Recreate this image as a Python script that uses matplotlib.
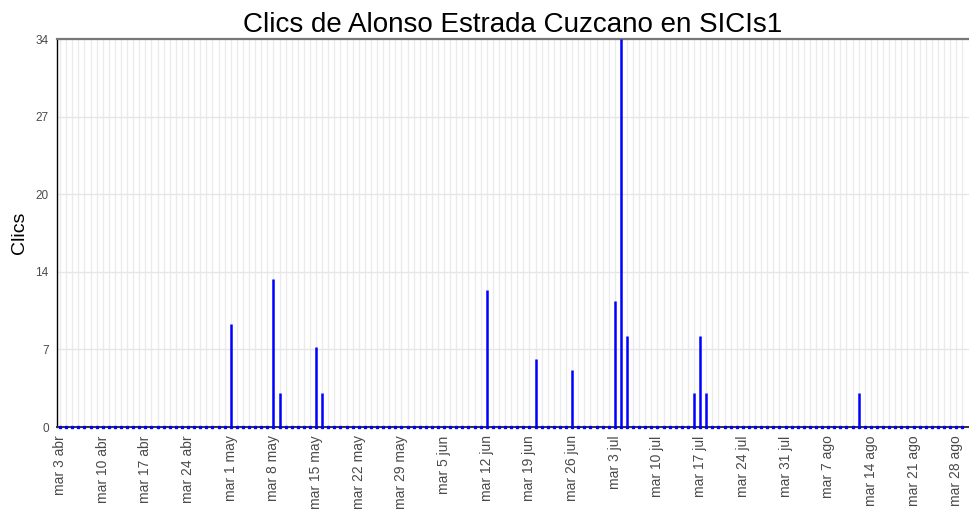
import numpy as np
import matplotlib
matplotlib.use("Agg")
import matplotlib.pyplot as plt

plt.rcParams["font.family"] = ["Liberation Sans", "DejaVu Sans"]

# ---
# Daily clicks, one row per week starting Tuesday 3 April

clicks = [
    0, 0, 0, 0, 0, 0, 0,      # 3 abr
    0, 0, 0, 0, 0, 0, 0,      # 10 abr
    0, 0, 0, 0, 0, 0, 0,      # 17 abr
    0, 0, 0, 0, 0, 0, 0,      # 24 abr
    9, 0, 0, 0, 0, 0, 0,      # 1 may
    13, 3, 0, 0, 0, 0, 0,     # 8 may
    7, 3, 0, 0, 0, 0, 0,      # 15 may
    0, 0, 0, 0, 0, 0, 0,      # 22 may
    0, 0, 0, 0, 0, 0, 0,      # 29 may
    0, 0, 0, 0, 0, 0, 0,      # 5 jun
    12, 0, 0, 0, 0, 0, 0,     # 12 jun
    0, 6, 0, 0, 0, 0, 0,      # 19 jun
    5, 0, 0, 0, 0, 0, 0,      # 26 jun
    11, 34, 8, 0, 0, 0, 0,    # 3 jul
    0, 0, 0, 0, 0, 0, 3,      # 10 jul
    8, 3, 0, 0, 0, 0, 0,      # 17 jul
    0, 0, 0, 0, 0, 0, 0,      # 24 jul
    0, 0, 0, 0, 0, 0, 0,      # 31 jul
    0, 0, 0, 0, 0, 3, 0,      # 7 ago
    0, 0, 0, 0, 0, 0, 0,      # 14 ago
    0, 0, 0, 0, 0, 0, 0,      # 21 ago
    0, 0,                     # 28 ago
]

week_labels = [
    "mar 3 abr", "mar 10 abr", "mar 17 abr", "mar 24 abr",
    "mar 1 may", "mar 8 may", "mar 15 may", "mar 22 may", "mar 29 may",
    "mar 5 jun", "mar 12 jun", "mar 19 jun", "mar 26 jun",
    "mar 3 jul", "mar 10 jul", "mar 17 jul", "mar 24 jul", "mar 31 jul",
    "mar 7 ago", "mar 14 ago", "mar 21 ago", "mar 28 ago",
]

y_max = 34
y_labels = ["0", "7", "14", "20", "27", "34"]

# ---

days = np.arange(len(clicks))
values = np.array(clicks)

fig = plt.figure(figsize=(9.69, 5.12), dpi=100)
ax = fig.add_axes([57 / 969, 1 - 427 / 512, 912 / 969, 388 / 512])

ax.set_xlim(-0.5, 149.1)
ax.set_ylim(0, y_max)

# daily vertical grid + horizontal grid at y ticks
ax.set_xticks(days, minor=True)
ax.set_xticks(days[::7])
ax.set_xticklabels(week_labels, rotation=90, fontsize=10, color="#4a4a4a")
ax.set_yticks(np.linspace(0, y_max, len(y_labels)))
ax.set_yticklabels(y_labels, fontsize=8.5, color="#4a4a4a")
ax.grid(True, which="both", axis="x", color="#ebebeb", linewidth=1.0)
ax.grid(True, which="major", axis="y", color="#e6e6e6", linewidth=1.0)
ax.set_axisbelow(True)
ax.tick_params(which="both", length=0)
ax.tick_params(axis="x", pad=6)
ax.tick_params(axis="y", pad=6)

nz = values > 0
ax.vlines(days[nz], 0, values[nz], color="#0000ff", linewidth=1.8, zorder=3)
ax.plot(days, np.zeros_like(days), linestyle="none", marker="s",
        markersize=1.8, color="#0000ff", zorder=4, clip_on=False)

ax.spines["right"].set_visible(False)
ax.spines["top"].set_color("#777777")
ax.spines["top"].set_linewidth(1.6)
ax.spines["left"].set_color("#000000")
ax.spines["left"].set_linewidth(1.0)
ax.spines["bottom"].set_color("#333333")
ax.spines["bottom"].set_linewidth(1.4)

ax.set_title("Clics de Alonso Estrada Cuzcano en SICIs1", fontsize=20, pad=5)
ax.set_ylabel("Clics", fontsize=14, labelpad=5)

fig.savefig("out.png", dpi=100)
